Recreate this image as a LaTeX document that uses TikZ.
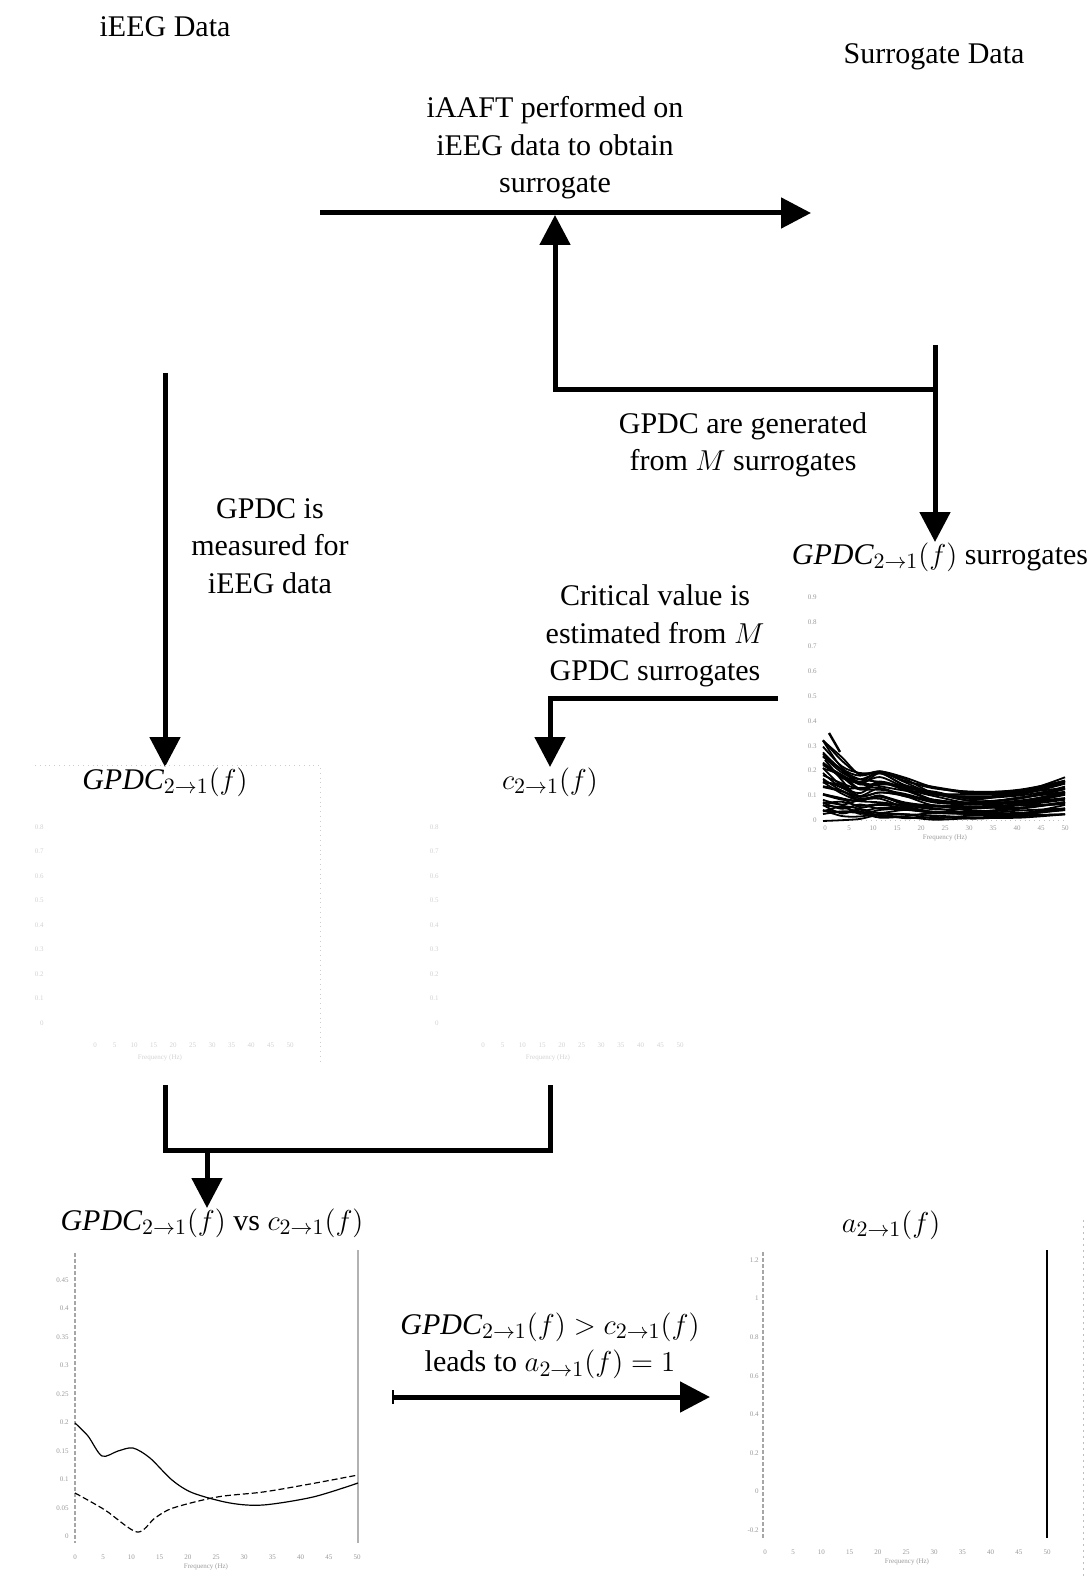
\documentclass[tikz,border=0pt]{standalone}
\usepackage{fontspec}
\setmainfont{Liberation Serif}
\usetikzlibrary{arrows.meta,positioning,calc}
\newcommand{\gpdc}{\mathit{GPDC}}

\begin{document}
\begin{tikzpicture}[x=0.5pt, y=-0.5pt,
  lbl/.style={font=\fontsize{15}{18.75}\selectfont, align=center},
  mlbl/.style={lbl, anchor=north, inner sep=0pt},
  link/.style={line width=2.5pt},
  ptr/.style={link, -{Triangle[length=15pt,width=15pt]}},
  axisline/.style={line width=0.6pt, gray!70, dash pattern=on 2pt off 1pt},
  tick/.style={font=\fontsize{3.5}{4}\selectfont, text=gray!80, inner sep=0.5pt},
  faint/.style={tick, text=gray!35},
  trace/.style={line width=0.6pt}
]
\useasboundingbox (0,0) rectangle (1087,1577);

% titles
\node[lbl] (eeg) at (165,27) {iEEG Data};
\node[lbl] (surr) at (934,57) {Surrogate Data};

% surrogate generation
\node[lbl] (iaaft) at (555,148) {iAAFT performed on\\iEEG data to obtain\\surrogate};
\coordinate (a1) at (320,213);
\coordinate (a2) at (811,213);
\draw[ptr] (a1) -- (a2);

\coordinate (b1) at (935,345);
\coordinate (b2) at (935,390);
\coordinate (b3) at (555,390);
\node[mlbl] (surrlbl) at (940,542) {$\gpdc_{2\to1}(f)$ surrogates};
\draw[ptr] (b1) -- (b1 |- surrlbl.north);
\draw[ptr] (b2) -- (b3) -- ($(b3 |- a1)+(0,2)$);
\node[lbl] (gen) at (743,445) {GPDC are generated\\from $M$ surrogates};

% measured GPDC
\coordinate (eegout) at (165,373);
\node[mlbl] (gpdc) at (165,767) {$\gpdc_{2\to1}(f)$};
\draw[ptr] (eegout) -- (gpdc.north);
\node[lbl] (meas) at (270,546) {GPDC is\\measured for\\iEEG data};

% critical value
\node[lbl] (crit) at (655,636) {Critical value is\\estimated from $M$\\GPDC surrogates};
\coordinate (critin) at (778,698);
\node[mlbl] (cval) at (550,767) {$c_{2\to1}(f)$};
\draw[ptr] (critin) -- (critin -| cval.north) -- (cval.north);

% surrogate spectra
\draw[gray!50, dotted] (823,820) -- (1065,820);
\foreach \v [count=\i from 0] in {0.9,0.8,0.7,0.6,0.5,0.4,0.3,0.2,0.1,0}
  \node[tick, anchor=east] (sy\i) at (818,{597+24.8*\i}) {\v};
\foreach \v [count=\i from 0] in {0,5,10,15,20,25,30,35,40,45,50}
  \node[tick] (sx\i) at ({825+24*\i},828) {\v};
\node[tick] (sxl) at (945,838) {Frequency (Hz)};
\pgfmathsetseed{12}
\foreach \k in {0,...,35}{
  \draw[trace, line width=0.9pt] plot[smooth] coordinates {
    (823,{742+76*\k/35+6*rand}) (842,{760+58*\k/35+5*rand})
    (860,{773+45*\k/35+4*rand}) (880,{768+50*\k/35+4*rand})
    (905,{778+40*\k/35+3*rand}) (935,{788+30*\k/35+3*rand})
    (975,{793+25*\k/35+2*rand}) (1020,{789+28*\k/35+2*rand})
    (1065,{778+36*\k/35+3*rand})};
}
\draw[line width=1.2pt] (829,733) -- (840,752);
\draw[line width=1pt] (825,760) -- (850,790);

% faint GPDC and critical value plots
\draw[gray!40, dotted] (35,765) -- (320,765) -- (320,1065);
\foreach \v [count=\i from 0] in {0.8,0.7,0.6,0.5,0.4,0.3,0.2,0.1,0}
  \node[faint, anchor=east] (gy\i) at (45,{827+24.5*\i}) {\v};
\foreach \v [count=\i from 0] in {0,5,10,15,20,25,30,35,40,45,50}
  \node[faint] (gx\i) at ({95+19.5*\i},1045) {\v};
\node[faint] (gxl) at (160,1058) {Frequency (Hz)};
\foreach \v [count=\i from 0] in {0.8,0.7,0.6,0.5,0.4,0.3,0.2,0.1,0}
  \node[faint, anchor=east] (cy\i) at (440,{827+24.5*\i}) {\v};
\foreach \v [count=\i from 0] in {0,5,10,15,20,25,30,35,40,45,50}
  \node[faint] (cx\i) at ({483+19.7*\i},1045) {\v};
\node[faint] (cxl) at (548,1058) {Frequency (Hz)};

% join into comparison
\coordinate (gl) at (165,1085);
\coordinate (gj) at (165,1150);
\coordinate (cj) at (550,1150);
\coordinate (cl) at (550,1085);
\draw[link] (gl) -- (gj) -- (cj) -- (cl);
\coordinate (mj) at (207,1150);
\node[mlbl] (cmp) at (212,1208) {$\gpdc_{2\to1}(f)$ vs $c_{2\to1}(f)$};
\draw[ptr] (mj) -- (mj |- cmp.north);

% comparison plot
\draw[axisline] (75,1253) -- (75,1543);
\draw[line width=0.8pt, gray!60] (358,1250) -- (358,1543);
\foreach \v [count=\i from 0] in {0.45,0.4,0.35,0.3,0.25,0.2,0.15,0.1,0.05,0}
  \node[tick, anchor=east] (py\i) at (70,{1280+28.5*\i}) {\v};
\foreach \v [count=\i from 0] in {0,5,10,15,20,25,30,35,40,45,50}
  \node[tick] (px\i) at ({75+28.2*\i},1557) {\v};
\node[tick] (pxl) at (206,1567) {Frequency (Hz)};
\draw[trace] plot[smooth] coordinates {(75,1423) (88,1436) (102,1456)
  (118,1451) (133,1448) (150,1458) (172,1480) (193,1493) (230,1503)
  (263,1505) (313,1497) (358,1483)};
\draw[trace, dash pattern=on 3pt off 1.5pt] plot[smooth] coordinates {(75,1493)
  (105,1510) (137,1532) (155,1518) (173,1508) (217,1497) (263,1492)
  (310,1484) (358,1475)};

% decision
\node[lbl] (rule) at (550,1346) {$\gpdc_{2\to1}(f) > c_{2\to1}(f)$\\leads to $a_{2\to1}(f) = 1$};
\coordinate (r1) at (392,1397);
\coordinate (r2) at (710,1397);
\draw[link, {Bar[width=7pt,line width=1pt]}-{Triangle[length=15pt,width=15pt]}] (r1) -- (r2);

% result plot
\node[mlbl] (alab) at (891,1210) {$a_{2\to1}(f)$};
\draw[axisline] (763,1252) -- (763,1538);
\draw[line width=1.2pt] (1047,1250) -- (1047,1538);
\draw[gray!50, dash pattern=on 1pt off 2pt] (1083,1220) -- (1083,1577);
\foreach \v [count=\i from 0] in {1.2,1,0.8,0.6,0.4,0.2,0,-0.2}
  \node[tick, anchor=east] (ay\i) at (760,{1260+38.6*\i}) {\v};
\foreach \v [count=\i from 0] in {0,5,10,15,20,25,30,35,40,45,50}
  \node[tick] (ax\i) at ({765+28.2*\i},1552) {\v};
\node[tick] (axl) at (907,1562) {Frequency (Hz)};
\end{tikzpicture}
\end{document}
